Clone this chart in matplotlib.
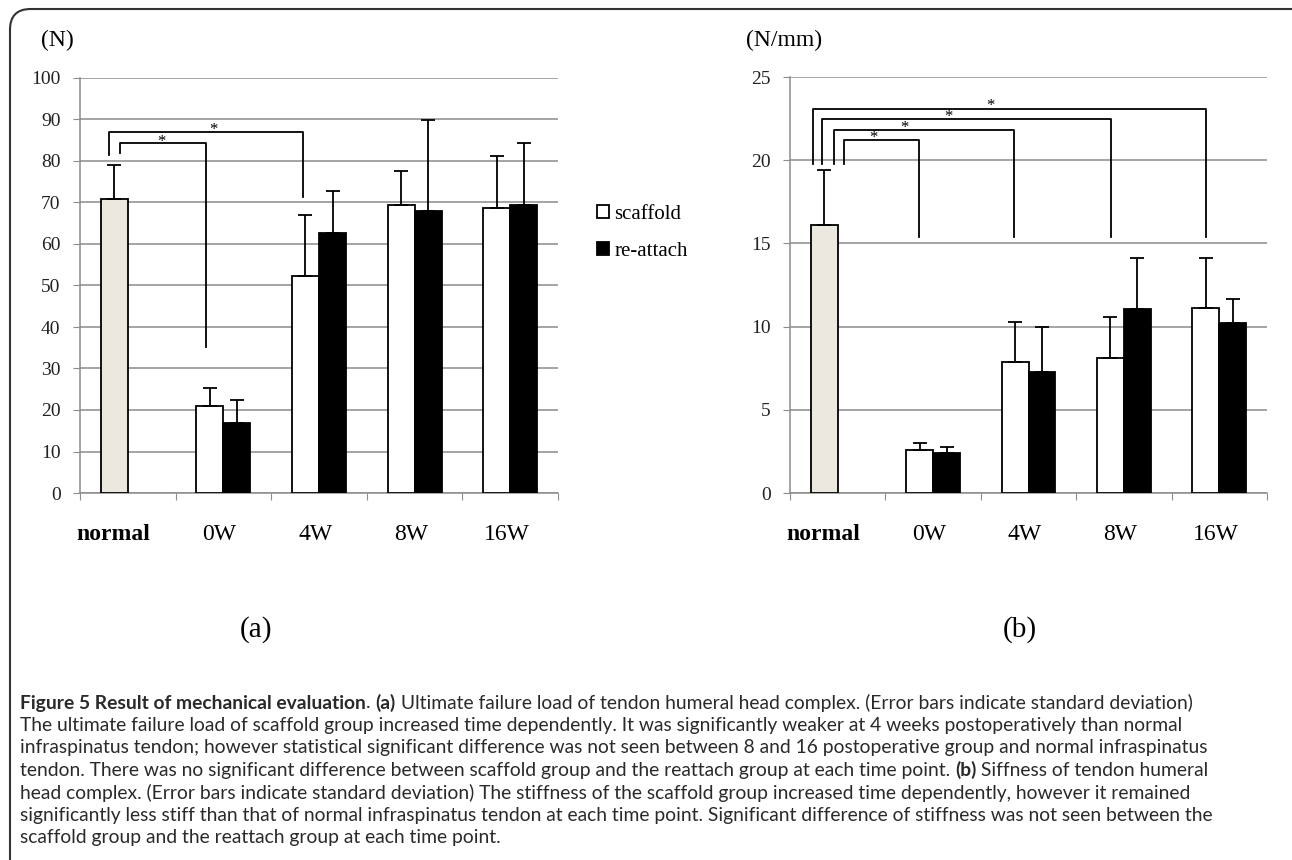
import matplotlib
matplotlib.use("Agg")
import matplotlib.pyplot as plt
from matplotlib.patches import FancyBboxPatch

# --- data ---
groups = ["0W", "4W", "8W", "16W"]
load_normal, load_normal_sd = 70.8, 8.2
load_scaffold = [21.0, 52.2, 69.3, 68.7]
load_scaffold_sd = [4.2, 14.7, 8.3, 12.6]
load_reattach = [16.8, 62.6, 68.0, 69.3]
load_reattach_sd = [5.7, 10.1, 21.8, 15.0]

stiff_normal, stiff_normal_sd = 16.1, 3.3
stiff_scaffold = [2.6, 7.85, 8.1, 11.1]
stiff_scaffold_sd = [0.4, 2.4, 2.5, 3.05]
stiff_reattach = [2.4, 7.3, 11.05, 10.2]
stiff_reattach_sd = [0.35, 2.65, 3.05, 1.45]

# significance brackets: (x_left, x_right, y_top, y_left_end, y_right_end)
load_brackets = [(-0.20, 1.83, 87.0, 81.4, 71.3),
                 (-0.08, 0.82, 84.3, 81.9, 35.2)]
stiff_brackets = [(-0.26, 3.86, 23.1, 19.8, 15.4),
                  (-0.16, 2.86, 22.5, 19.8, 15.4),
                  (-0.04, 1.85, 21.8, 19.8, 15.4),
                  (0.07, 0.85, 21.2, 19.8, 15.4)]
load_stars = [(0.90, 87.4), (0.35, 84.6)]
stiff_stars = [(1.60, 23.25), (1.16, 22.6), (0.70, 21.95), (0.37, 21.35)]

caption = [
    [("Figure 5 Result of mechanical evaluation", True), (". ", False), ("(a)", True),
     (" Ultimate failure load of tendon humeral head complex. (Error bars indicate standard deviation)", False)],
    [("The ultimate failure load of scaffold group increased time dependently. It was significantly weaker at 4 weeks postoperatively than normal", False)],
    [("infraspinatus tendon; however statistical significant difference was not seen between 8 and 16 postoperative group and normal infraspinatus", False)],
    [("tendon. There was no significant difference between scaffold group and the reattach group at each time point. ", False), ("(b)", True),
     (" Siffness of tendon humeral", False)],
    [("head complex. (Error bars indicate standard deviation) The stiffness of the scaffold group increased time dependently, however it remained", False)],
    [("significantly less stiff than that of normal infraspinatus tendon at each time point. Significant difference of stiffness was not seen between the", False)],
    [("scaffold group and the reattach group at each time point.", False)],
]

SERIF = ["Liberation Serif", "DejaVu Serif"]
W = 0.283


def panel(ax, normal, normal_sd, scaf, scaf_sd, reat, reat_sd, ymax, step, brackets, stars):
    xs = list(range(1, len(groups) + 1))
    err_kw = dict(ecolor="black", elinewidth=1.3, capsize=5, capthick=1.3)
    ax.bar([0 - W / 2], [normal], W, color="#ebe9df", edgecolor="black", linewidth=1.3,
           yerr=[[0], [normal_sd]], error_kw=err_kw, zorder=3)
    ax.bar([x - W / 2 for x in xs], scaf, W, color="white", edgecolor="black", linewidth=1.3,
           yerr=[[0] * len(xs), scaf_sd], error_kw=err_kw, zorder=3, label="scaffold")
    ax.bar([x + W / 2 for x in xs], reat, W, color="black", edgecolor="black", linewidth=1.3,
           yerr=[[0] * len(xs), reat_sd], error_kw=err_kw, zorder=3, label="re-attach")
    ax.set_xlim(-0.5, len(groups) + 0.5)
    ax.set_ylim(0, ymax)
    ax.set_yticks(range(0, ymax + 1, step))
    ax.yaxis.grid(True, color="#8c8c8c", linewidth=1.1, zorder=0)
    ax.set_axisbelow(True)
    ax.set_xticks([i - 0.5 for i in range(len(groups) + 2)])
    ax.set_xticklabels([])
    ax.tick_params(axis="x", direction="out", length=5, color="#8c8c8c")
    ax.tick_params(axis="y", direction="out", length=5, color="#8c8c8c", pad=9)
    for lab in ax.get_yticklabels():
        lab.set_family(SERIF)
        lab.set_fontsize(14)
        lab.set_color("#222222")
    for s in ("top", "right"):
        ax.spines[s].set_visible(False)
    for s in ("left", "bottom"):
        ax.spines[s].set_color("#8c8c8c")
        ax.spines[s].set_linewidth(1.1)
    tr = ax.get_xaxis_transform()
    ax.text(-0.15, -0.1, "normal", transform=tr, ha="center", va="center",
            family=SERIF, fontsize=17, fontweight="bold")
    for x, g in zip(xs, groups):
        ax.text(x - 0.04, -0.1, g, transform=tr, ha="center", va="center",
                family=SERIF, fontsize=17)
    for xl, xr, yt, yl, yr in brackets:
        ax.plot([xl, xl, xr, xr], [yl, yt, yt, yr], color="black", linewidth=1.3,
                clip_on=False, zorder=4)
    for sx, sy in stars:
        ax.text(sx, sy, "*", ha="center", va="center", family=SERIF, fontsize=12, zorder=4)


fig = plt.figure(figsize=(12.92, 8.6), dpi=100)

ax_a = fig.add_axes([80 / 1292, 1 - 493 / 860, 478 / 1292, 415 / 860])
ax_b = fig.add_axes([790 / 1292, 1 - 493 / 860, 477 / 1292, 416 / 860])
panel(ax_a, load_normal, load_normal_sd, load_scaffold, load_scaffold_sd,
      load_reattach, load_reattach_sd, 100, 10, load_brackets, load_stars)
panel(ax_b, stiff_normal, stiff_normal_sd, stiff_scaffold, stiff_scaffold_sd,
      stiff_reattach, stiff_reattach_sd, 25, 5, stiff_brackets, stiff_stars)

fig.text(57 / 1292, 1 - 40 / 860, "(N)", ha="center", va="center", family=SERIF, fontsize=17)
fig.text(784 / 1292, 1 - 40 / 860, "(N/mm)", ha="center", va="center", family=SERIF, fontsize=17)

ax_a.legend(loc="center left", bbox_to_anchor=(578 / 1292, 1 - 233 / 860),
            bbox_transform=fig.transFigure, frameon=False, handlelength=0.6,
            handleheight=0.6, handletextpad=0.25, labelspacing=0.85,
            prop={"family": SERIF, "size": 15})

fig.text(256 / 1292, 1 - 630 / 860, "(a)", ha="center", va="center", family=SERIF, fontsize=21)
fig.text(1020 / 1292, 1 - 630 / 860, "(b)", ha="center", va="center", family=SERIF, fontsize=21)

# rounded frame around the panels
frame = FancyBboxPatch((10 / 1292, -0.2), 1.2, 1.2 - 9 / 860,
                       boxstyle="round,pad=0,rounding_size=0.016",
                       transform=fig.transFigure, fill=False, edgecolor="#333333",
                       linewidth=1.5, clip_on=False, mutation_aspect=1292 / 860)
fig.patches.append(frame)

# caption, size chosen so that line 6 spans the same width as in the figure
cap_font = ["Lato", "DejaVu Sans"]
renderer = fig.canvas.get_renderer()


def write_line(parts, y, size):
    x = 20
    for txt, bold in parts:
        t = fig.text(x / 1292, y, txt, ha="left", va="center", family=cap_font, fontsize=size,
                     fontweight="bold" if bold else "normal", color="#2a2a2a")
        x += t.get_window_extent(renderer=renderer).width
    return x


probe = write_line(caption[5], 2.0, 10)
fig.texts[-1].remove()
cap_size = 10 * (1216 - 20) / (probe - 20)

for i, parts in enumerate(caption):
    write_line(parts, 1 - (703 + i * 22.4) / 860, cap_size)

fig.savefig("out.png", dpi=100)
